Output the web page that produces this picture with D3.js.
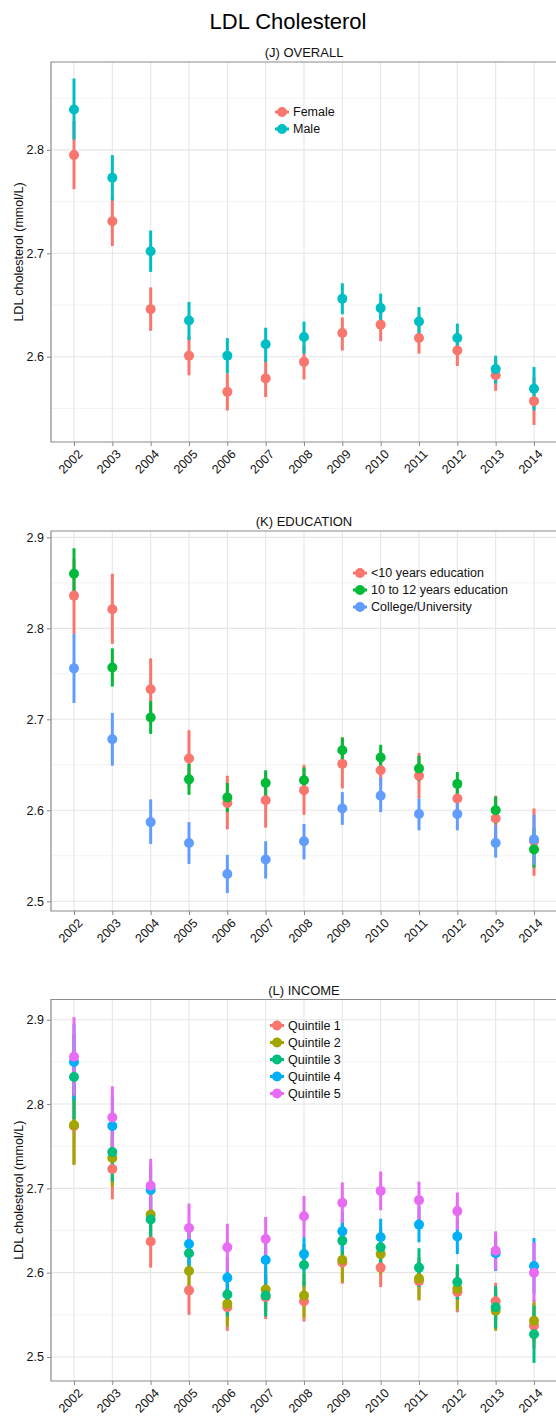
<!DOCTYPE html>
<html>
<head>
<meta charset="utf-8">
<script src="https://cdn.jsdelivr.net/npm/d3@7"></script>
<style>
  html, body { margin: 0; padding: 0; background: #fff; }
  svg { display: block; font-family: "Liberation Sans", Arial, Helvetica, sans-serif; }
</style>
</head>
<body>
<div id="chart"></div>
<script>
// Survey years shared by all three panels
const years = ["2002","2003","2004","2005","2006","2007","2008","2009","2010","2011","2012","2013","2014"];

// (J) Overall, by sex: mean and 95% CI bounds
const female   = [2.795,2.731,2.646,2.601,2.566,2.579,2.595,2.623,2.631,2.618,2.606,2.582,2.557];
const femaleLo = [2.762,2.707,2.625,2.582,2.548,2.561,2.578,2.606,2.615,2.603,2.591,2.567,2.534];
const femaleHi = [2.828,2.755,2.667,2.620,2.584,2.597,2.611,2.638,2.647,2.633,2.621,2.597,2.580];
const male     = [2.839,2.773,2.702,2.635,2.601,2.612,2.619,2.656,2.647,2.634,2.618,2.588,2.569];
const maleLo   = [2.810,2.751,2.682,2.616,2.584,2.595,2.603,2.641,2.632,2.620,2.604,2.574,2.548];
const maleHi   = [2.869,2.795,2.722,2.653,2.618,2.628,2.634,2.671,2.661,2.648,2.632,2.601,2.590];

// (K) Education
const eduLow     = [2.836,2.821,2.733,2.657,2.608,2.611,2.622,2.651,2.644,2.638,2.613,2.591,2.566];
const eduLowLo   = [2.794,2.783,2.700,2.626,2.579,2.581,2.595,2.624,2.628,2.613,2.598,2.566,2.528];
const eduLowHi   = [2.876,2.860,2.767,2.688,2.638,2.641,2.650,2.680,2.660,2.663,2.628,2.616,2.602];
const eduMid     = [2.860,2.757,2.702,2.634,2.614,2.630,2.633,2.666,2.658,2.646,2.629,2.600,2.557];
const eduMidLo   = [2.832,2.736,2.684,2.617,2.598,2.615,2.618,2.652,2.644,2.632,2.615,2.585,2.537];
const eduMidHi   = [2.888,2.778,2.720,2.651,2.630,2.644,2.647,2.680,2.672,2.660,2.642,2.615,2.580];
const eduHigh    = [2.756,2.678,2.587,2.564,2.530,2.546,2.566,2.602,2.616,2.596,2.596,2.564,2.568];
const eduHighLo  = [2.718,2.649,2.563,2.541,2.509,2.525,2.546,2.584,2.598,2.578,2.578,2.548,2.540];
const eduHighHi  = [2.794,2.707,2.612,2.587,2.551,2.566,2.585,2.620,2.636,2.613,2.613,2.584,2.595];

// (L) Income quintiles
const q1   = [2.774,2.723,2.637,2.579,2.559,2.571,2.566,2.612,2.606,2.590,2.577,2.566,2.537];
const q1Lo = [2.728,2.687,2.606,2.550,2.531,2.545,2.542,2.587,2.583,2.567,2.553,2.544,2.510];
const q1Hi = [2.820,2.759,2.668,2.608,2.587,2.597,2.590,2.637,2.629,2.613,2.601,2.588,2.564];
const q2   = [2.775,2.736,2.669,2.602,2.563,2.580,2.573,2.615,2.622,2.593,2.581,2.555,2.543];
const q2Lo = [2.728,2.702,2.640,2.575,2.536,2.553,2.547,2.589,2.598,2.568,2.556,2.531,2.518];
const q2Hi = [2.822,2.770,2.698,2.629,2.590,2.607,2.599,2.641,2.646,2.618,2.606,2.579,2.568];
const q3   = [2.832,2.743,2.663,2.623,2.574,2.573,2.609,2.638,2.630,2.606,2.589,2.559,2.527];
const q3Lo = [2.782,2.708,2.636,2.598,2.548,2.548,2.584,2.614,2.606,2.583,2.568,2.534,2.493];
const q3Hi = [2.882,2.778,2.690,2.648,2.600,2.598,2.634,2.662,2.654,2.629,2.610,2.584,2.561];
const q4   = [2.850,2.774,2.698,2.634,2.594,2.615,2.622,2.649,2.642,2.657,2.643,2.623,2.608];
const q4Lo = [2.805,2.738,2.668,2.610,2.570,2.587,2.602,2.626,2.620,2.636,2.622,2.602,2.575];
const q4Hi = [2.895,2.810,2.728,2.658,2.618,2.643,2.642,2.672,2.664,2.678,2.665,2.644,2.641];
const q5   = [2.856,2.784,2.703,2.653,2.630,2.640,2.667,2.683,2.697,2.686,2.673,2.626,2.600];
const q5Lo = [2.810,2.747,2.670,2.624,2.601,2.613,2.642,2.659,2.674,2.663,2.651,2.603,2.565];
const q5Hi = [2.903,2.821,2.735,2.682,2.658,2.666,2.691,2.707,2.720,2.708,2.695,2.649,2.636];

// Tick labels for the value axis
const yTicks = [2.5, 2.6, 2.7, 2.8, 2.9];

const W = 556, H = 1419;
const svg = d3.select("#chart").append("svg").attr("width", W).attr("height", H);
svg.append("rect").attr("width", W).attr("height", H).attr("fill", "#fff");

svg.append("text")
  .attr("x", 288).attr("y", 29)
  .attr("text-anchor", "middle")
  .attr("font-size", 22)
  .attr("fill", "#000")
  .text("LDL Cholesterol");

const panels = [
  {
    title: "(J) OVERALL", top: 62, bottom: 442, domain: [2.5175, 2.885], yTitle: true,
    legend: { x: 282, y: 112 },
    series: [
      { name: "Female", color: "#F8766D", mean: female, lo: femaleLo, hi: femaleHi },
      { name: "Male",   color: "#00BFC4", mean: male,   lo: maleLo,   hi: maleHi }
    ]
  },
  {
    title: "(K) EDUCATION", top: 531, bottom: 911, domain: [2.4893, 2.907], yTitle: false,
    legend: { x: 360, y: 573 },
    series: [
      { name: "<10 years education",      color: "#F8766D", mean: eduLow,  lo: eduLowLo,  hi: eduLowHi },
      { name: "10 to 12 years education", color: "#00BA38", mean: eduMid,  lo: eduMidLo,  hi: eduMidHi },
      { name: "College/University",       color: "#619CFF", mean: eduHigh, lo: eduHighLo, hi: eduHighHi }
    ]
  },
  {
    title: "(L) INCOME", top: 999.5, bottom: 1381, domain: [2.4715, 2.924], yTitle: true,
    legend: { x: 277, y: 1025.5 },
    series: [
      { name: "Quintile 1", color: "#F8766D", mean: q1, lo: q1Lo, hi: q1Hi },
      { name: "Quintile 2", color: "#A3A500", mean: q2, lo: q2Lo, hi: q2Hi },
      { name: "Quintile 3", color: "#00BF7D", mean: q3, lo: q3Lo, hi: q3Hi },
      { name: "Quintile 4", color: "#00B0F6", mean: q4, lo: q4Lo, hi: q4Hi },
      { name: "Quintile 5", color: "#E76BF3", mean: q5, lo: q5Lo, hi: q5Hi }
    ]
  }
];

const left = 51, right = 557;
const axisColor = "#8a8a8a";

panels.forEach(p => {
  const g = svg.append("g");
  const x = d3.scalePoint().domain(years).range([left, right]).padding(0.6);
  const y = d3.scaleLinear().domain(p.domain).range([p.bottom, p.top]);

  const [d0, d1] = p.domain;
  const ticks = yTicks.filter(t => t >= d0 && t <= d1);
  const minor = d3.range(2.45, 2.96, 0.1).map(v => +v.toFixed(2)).filter(t => t >= d0 && t <= d1);

  // grid
  g.selectAll(".minor").data(minor).join("line")
    .attr("x1", left).attr("x2", right)
    .attr("y1", d => y(d)).attr("y2", d => y(d))
    .attr("stroke", "#f3f3f3").attr("stroke-width", 1);
  g.selectAll(".major").data(ticks).join("line")
    .attr("x1", left).attr("x2", right)
    .attr("y1", d => y(d)).attr("y2", d => y(d))
    .attr("stroke", "#e6e6e6").attr("stroke-width", 1.1);
  g.selectAll(".vgrid").data(years).join("line")
    .attr("x1", d => x(d)).attr("x2", d => x(d))
    .attr("y1", p.top).attr("y2", p.bottom)
    .attr("stroke", "#e6e6e6").attr("stroke-width", 1.1);

  // frame
  g.append("path")
    .attr("d", `M${right},${p.top}H${left}V${p.bottom}H${right}`)
    .attr("fill", "none").attr("stroke", axisColor).attr("stroke-width", 1.2);

  // y axis
  const yAxis = g.append("g").attr("transform", `translate(${left},0)`)
    .call(d3.axisLeft(y).tickValues(ticks).tickSize(4).tickPadding(3).tickFormat(d3.format(".1f")));
  yAxis.select(".domain").remove();
  yAxis.selectAll("line").attr("stroke", axisColor);
  yAxis.selectAll("text").attr("font-size", 12.5).attr("fill", "#111").attr("font-family", null);

  // x axis
  const xAxis = g.append("g").attr("transform", `translate(0,${p.bottom})`)
    .call(d3.axisBottom(x).tickSize(4).tickPadding(3));
  xAxis.select(".domain").remove();
  xAxis.selectAll("line").attr("stroke", axisColor);
  xAxis.selectAll("text")
    .attr("font-size", 12.5).attr("fill", "#111").attr("font-family", null)
    .attr("text-anchor", "end")
    .attr("dy", null)
    .attr("transform", "translate(6,10) rotate(-45)")
    .attr("y", 0).attr("x", 0)
    .attr("dominant-baseline", "central");

  // panel title
  g.append("text")
    .attr("x", (left + right) / 2).attr("y", p.top - 5)
    .attr("text-anchor", "middle").attr("font-size", 13).attr("fill", "#111")
    .text(p.title);

  if (p.yTitle) {
    g.append("text")
      .attr("transform", `translate(23,${(p.top + p.bottom) / 2}) rotate(-90)`)
      .attr("text-anchor", "middle").attr("font-size", 12.5).attr("fill", "#111")
      .text("LDL cholesterol (mmol/L)");
  }

  // intervals first, then points (series drawn in order)
  p.series.forEach(s => {
    g.append("g").selectAll("line").data(years).join("line")
      .attr("x1", d => x(d)).attr("x2", d => x(d))
      .attr("y1", (d, i) => y(s.lo[i])).attr("y2", (d, i) => y(s.hi[i]))
      .attr("stroke", s.color).attr("stroke-width", 3);
  });
  p.series.forEach(s => {
    g.append("g").selectAll("circle").data(years).join("circle")
      .attr("cx", d => x(d)).attr("cy", (d, i) => y(s.mean[i]))
      .attr("r", 5).attr("fill", s.color);
  });

  // legend
  const lg = g.append("g").attr("transform", `translate(${p.legend.x},${p.legend.y})`);
  p.series.forEach((s, i) => {
    const row = lg.append("g").attr("transform", `translate(0,${i * 17})`);
    row.append("line").attr("x1", -7).attr("x2", 7).attr("stroke", s.color).attr("stroke-width", 3);
    row.append("circle").attr("r", 5).attr("fill", s.color);
    row.append("text").attr("x", 11).attr("y", 0).attr("dy", "0.35em")
      .attr("font-size", 12.5).attr("fill", "#111").text(s.name);
  });
});
</script>
</body>
</html>
